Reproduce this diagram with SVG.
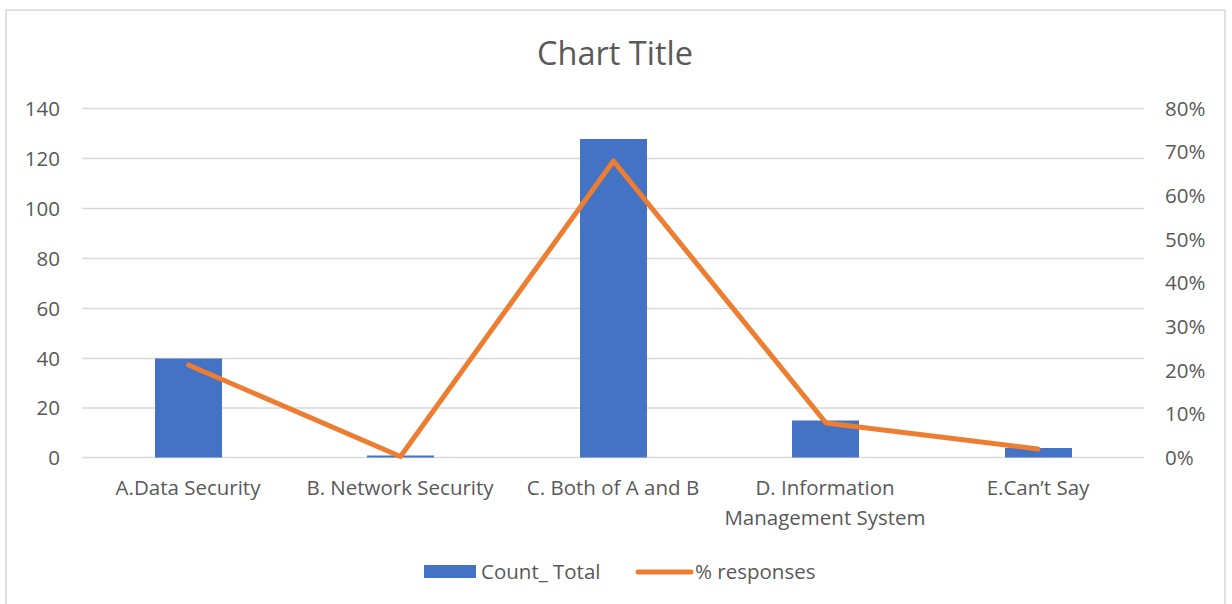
<svg xmlns="http://www.w3.org/2000/svg" width="1232" height="604" viewBox="0 0 1232 604">
<style>
.t{font-family:"Open Sans","Lato","Liberation Sans",sans-serif;fill:#595959}
.ax{font-size:20.5px}
.grid{stroke:#d9d9d9;stroke-width:1.5}
.bar{fill:#4472C4}
.ln{fill:none;stroke:#ED7D31;stroke-width:5;stroke-linejoin:round;stroke-linecap:round}
</style>
<rect x="0" y="0" width="1232" height="604" fill="#ffffff"/>
<rect x="6" y="10" width="1219" height="610" fill="#ffffff" stroke="#d9d9d9" stroke-width="1.5"/>
<text class="t" x="615" y="65" font-size="32.5" text-anchor="middle">Chart Title</text>
<g id="grid">
<line class="grid" x1="82" y1="108.5" x2="1144" y2="108.5"/>
<line class="grid" x1="82" y1="158.5" x2="1144" y2="158.5"/>
<line class="grid" x1="82" y1="208.5" x2="1144" y2="208.5"/>
<line class="grid" x1="82" y1="258.5" x2="1144" y2="258.5"/>
<line class="grid" x1="82" y1="308.5" x2="1144" y2="308.5"/>
<line class="grid" x1="82" y1="358.5" x2="1144" y2="358.5"/>
<line class="grid" x1="82" y1="408" x2="1144" y2="408"/>
<line class="grid" x1="82" y1="457.5" x2="1144" y2="457.5"/>
</g>
<g id="left-axis" class="t ax" text-anchor="end">
<text x="60" y="116">140</text>
<text x="60" y="166">120</text>
<text x="60" y="216">100</text>
<text x="60" y="266">80</text>
<text x="60" y="316">60</text>
<text x="60" y="366">40</text>
<text x="60" y="415">20</text>
<text x="60" y="465">0</text>
</g>
<g id="right-axis" class="t ax" text-anchor="start">
<text x="1165" y="116">80%</text>
<text x="1165" y="159">70%</text>
<text x="1165" y="203">60%</text>
<text x="1165" y="247">50%</text>
<text x="1165" y="290">40%</text>
<text x="1165" y="334">30%</text>
<text x="1165" y="378">20%</text>
<text x="1165" y="421">10%</text>
<text x="1165" y="465">0%</text>
</g>
<g id="bars">
<rect class="bar" x="155" y="358.5" width="67" height="99"/>
<rect class="bar" x="367" y="455.5" width="67" height="2"/>
<rect class="bar" x="580" y="139" width="67" height="318.5"/>
<rect class="bar" x="792" y="420.5" width="67" height="37"/>
<rect class="bar" x="1005" y="448" width="67" height="9.5"/>
</g>
<g id="connectors">
<polyline class="ln" points="188.5,365 400.5,456.5 613.5,161 826,423 1038,449"/>
</g>
<g id="categories" class="t ax" text-anchor="middle">
<text x="188" y="495">A.Data Security</text>
<text x="400" y="495">B. Network Security</text>
<text x="613" y="495">C. Both of A and B</text>
<text x="825" y="495">D. Information</text>
<text x="825" y="525">Management System</text>
<text x="1038" y="495">E.Can’t Say</text>
</g>
<g id="legend">
<rect class="bar" x="424" y="565" width="52" height="13"/>
<text class="t ax" x="481" y="579">Count_ Total</text>
<line class="ln" x1="638" y1="572" x2="691" y2="572"/>
<text class="t ax" x="695" y="579">% responses</text>
</g>
</svg>
